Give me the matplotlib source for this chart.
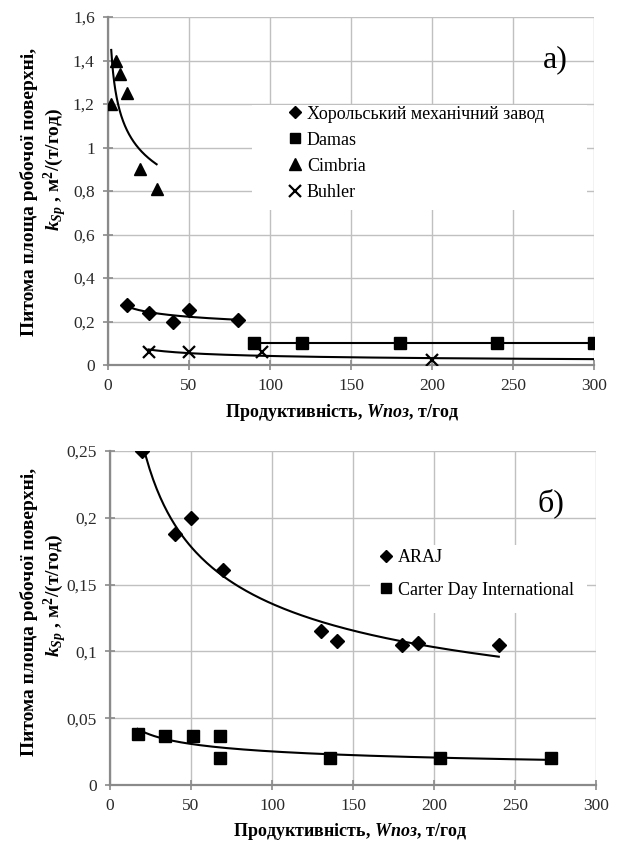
import numpy as np
import matplotlib
matplotlib.use("Agg")
import matplotlib.pyplot as plt
from matplotlib.patches import Rectangle

plt.rcParams['font.family'] = ['Liberation Serif', 'DejaVu Serif']
plt.rcParams['mathtext.fontset'] = 'custom'
plt.rcParams['mathtext.rm'] = 'Liberation Serif'
plt.rcParams['mathtext.it'] = 'Liberation Serif:italic'
plt.rcParams['mathtext.bf'] = 'Liberation Serif:bold'
plt.rcParams['mathtext.bfit'] = 'Liberation Serif:bold:italic'

# --- data, panel a) ---
khorol_x = [12, 25, 40, 50, 80]
khorol_y = [0.275, 0.24, 0.20, 0.255, 0.205]
damas_x = [90, 120, 180, 240, 300]
damas_y = [0.1, 0.1, 0.1, 0.1, 0.1]
cimbria_x = [2, 5, 7.5, 12, 20, 30]
cimbria_y = [1.2, 1.4, 1.34, 1.25, 0.9, 0.81]
buhler_x = [25, 50, 95, 200]
buhler_y = [0.06, 0.06, 0.058, 0.025]
yticks_a = [0, 0.2, 0.4, 0.6, 0.8, 1.0, 1.2, 1.4, 1.6]
ylabels_a = ['0', '0,2', '0,4', '0,6', '0,8', '1', '1,2', '1,4', '1,6']

# --- data, panel б) ---
araj_x = [20, 40, 50, 70, 130, 140, 180, 190, 240]
araj_y = [0.25, 0.188, 0.2, 0.161, 0.115, 0.108, 0.105, 0.106, 0.105]
carter_x = [17, 34, 51, 68, 68, 136, 204, 272]
carter_y = [0.038, 0.037, 0.037, 0.037, 0.02, 0.02, 0.02, 0.02]
yticks_b = [0, 0.05, 0.1, 0.15, 0.2, 0.25]
ylabels_b = ['0', '0,05', '0,1', '0,15', '0,2', '0,25']

xticks = [0, 50, 100, 150, 200, 250, 300]

ylab1 = 'Питома площа робочої поверхні,'
ylab2 = r'$\mathbfit{k}_{\mathbfit{Sp}}$ , м$^{\mathbf{2}}$/(т/год)'
xlab = r'Продуктивність, $\mathbfit{Wпоз}$, т/год'

GRID = '#c0c0c0'
SPINE = '#8a8a8a'


def power_trend(ax, x, y, x_end=None):
    # Excel-like power trendline: fit ln y = ln a + b ln x
    b, lna = np.polyfit(np.log(x), np.log(y), 1)
    xe = max(x) if x_end is None else x_end
    xs = np.linspace(min(x), xe, 200)
    ax.plot(xs, np.exp(lna) * xs ** b, color='black', lw=1.5, zorder=3)


def style_axes(ax, yticks, ylabels, ymax):
    ax.set_xlim(0, 300)
    ax.set_ylim(0, ymax)
    ax.set_xticks(xticks)
    ax.set_yticks(yticks)
    ax.set_yticklabels(ylabels)
    ax.set_axisbelow(True)
    ax.grid(True, color=GRID, lw=1.0)
    for s in ['top', 'right']:
        ax.spines[s].set_visible(False)
    for s in ['left', 'bottom']:
        ax.spines[s].set_color(SPINE)
        ax.spines[s].set_linewidth(1.6)
    ax.tick_params(direction='inout', length=7, width=1.2, color=SPINE,
                   labelsize=12.5, labelcolor='#2a2a2a', pad=6)


fig = plt.figure(figsize=(6.17, 8.5), dpi=100)

# ---------------- panel a) ----------------
ax1 = fig.add_axes([108 / 617, 1 - 365 / 850, 486 / 617, 348 / 850])
style_axes(ax1, yticks_a, ylabels_a, 1.6)
ax1.add_patch(Rectangle((0.296, 0.445), 0.69, 0.302, transform=ax1.transAxes,
                        facecolor='white', edgecolor='none', zorder=1))
mk = dict(color='black', linestyle='none', zorder=4)
h1, = ax1.plot(khorol_x, khorol_y, marker='D', ms=6.8, **mk)
h2, = ax1.plot(damas_x, damas_y, marker='s', ms=8, **mk)
h3, = ax1.plot(cimbria_x, cimbria_y, marker='^', ms=8.5, **mk)
h4, = ax1.plot(buhler_x, buhler_y, marker='x', ms=9, mew=1.6, **mk)
power_trend(ax1, khorol_x, khorol_y)
power_trend(ax1, damas_x, damas_y)
power_trend(ax1, cimbria_x, cimbria_y)
power_trend(ax1, buhler_x, buhler_y, x_end=300)
ax1.legend([h1, h2, h3, h4],
           ['Хорольський механічний завод', 'Damas', 'Cimbria', 'Buhler'],
           loc='upper left', bbox_to_anchor=(0.372, 0.745), frameon=False,
           borderpad=0, borderaxespad=0, handlelength=0.7,
           handletextpad=0.3, labelspacing=0.5, fontsize=13,
           markerscale=0.95)
ax1.text(555 / 617, 1 - 60 / 850, 'а)', transform=fig.transFigure,
         fontsize=23, ha='center', va='center')

# ---------------- panel б) ----------------
ax2 = fig.add_axes([110 / 617, 1 - 785 / 850, 486 / 617, 334 / 850])
style_axes(ax2, yticks_b, ylabels_b, 0.25)
ax2.add_patch(Rectangle((0.535, 0.515), 0.447, 0.205, transform=ax2.transAxes,
                        facecolor='white', edgecolor='none', zorder=1))
g1, = ax2.plot(araj_x, araj_y, marker='D', ms=6.8, **mk)
g2, = ax2.plot(carter_x, carter_y, marker='s', ms=8, **mk)
power_trend(ax2, araj_x, araj_y)
power_trend(ax2, carter_x, carter_y)
ax2.legend([g1, g2], ['ARAJ', 'Carter Day International'],
           loc='upper left', bbox_to_anchor=(0.555, 0.707), frameon=False,
           borderpad=0, borderaxespad=0, handlelength=0.7,
           handletextpad=0.3, labelspacing=0.88, fontsize=13,
           markerscale=0.95)
ax2.text(551 / 617, 1 - 503 / 850, 'б)', transform=fig.transFigure,
         fontsize=23, ha='center', va='center')

# axis titles
for yc1, yc2, xc, yx in [(192, 169, 342, 413), (612, 595, 350, 832)]:
    fig.text(29 / 617, 1 - yc1 / 850, ylab1, rotation=90, fontsize=14,
             fontweight='bold', ha='center', va='center')
    fig.text(55 / 617, 1 - yc2 / 850, ylab2, rotation=90, fontsize=14,
             fontweight='bold', ha='center', va='center')
    fig.text(xc / 617, 1 - yx / 850, xlab, fontsize=13,
             fontweight='bold', ha='center', va='center')

fig.savefig('out.png', dpi=100)
